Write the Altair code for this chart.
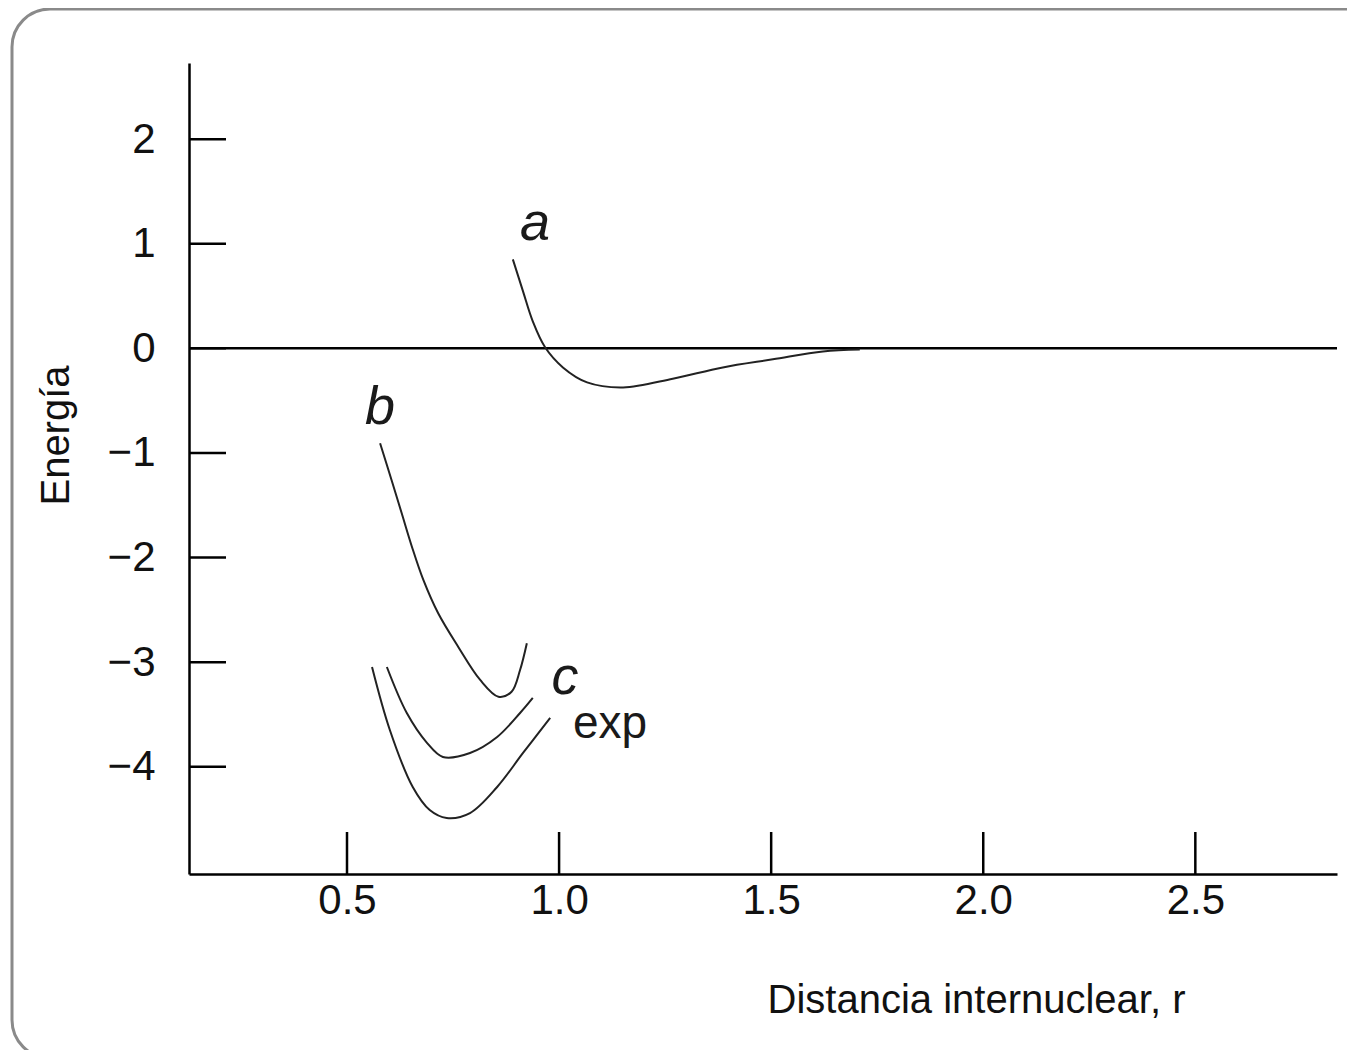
import altair as alt
import pandas as pd

# Axis ticks
x_ticks = [0.5, 1.0, 1.5, 2.0, 2.5]
y_ticks = [-4, -3, -2, -1, 0, 1, 2]

# Curve a
a_r = [0.891, 0.915, 0.938, 0.967, 1.009, 1.066, 1.151, 1.268, 1.386, 1.504, 1.622, 1.709]
a_e = [0.851, 0.545, 0.258, 0.010, -0.182, -0.325, -0.373, -0.290, -0.182, -0.105, -0.029, -0.010]
# Curve b
b_r = [0.578, 0.605, 0.629, 0.653, 0.680, 0.715, 0.762, 0.814, 0.857, 0.888, 0.908, 0.924]
b_e = [-0.907, -1.258, -1.577, -1.896, -2.214, -2.533, -2.852, -3.170, -3.330, -3.282, -3.075, -2.819]
# Curve c
c_r = [0.594, 0.641, 0.689, 0.726, 0.790, 0.854, 0.908, 0.938]
c_e = [-3.046, -3.486, -3.773, -3.906, -3.868, -3.715, -3.486, -3.342]
# Experimental curve
exp_r = [0.559, 0.601, 0.655, 0.695, 0.735, 0.790, 0.854, 0.915, 0.979]
exp_e = [-3.046, -3.648, -4.193, -4.413, -4.489, -4.442, -4.193, -3.868, -3.533]

# Curve labels
ital_labels = ["a", "b", "c"]
ital_r = [0.943, 0.578, 1.014]
ital_e = [1.036, -0.723, -3.304]
exp_label = ["exp"]
exp_label_r = [1.12]
exp_label_e = [-3.725]

W, H = 1148, 811
FONT = "Liberation Sans, Arial, sans-serif"

rows = []
for name, rs, es in [("a", a_r, a_e), ("b", b_r, b_e), ("c", c_r, c_e), ("exp", exp_r, exp_e)]:
    for r, e in zip(rs, es):
        rows.append({"curve": name, "r": r, "E": e})
curves = pd.DataFrame(rows)

xscale = alt.Scale(domain=[0.1275, 2.834], nice=False, zero=False)
yscale = alt.Scale(domain=[-5.025, 2.728], nice=False, zero=False)

frame = alt.Chart(pd.DataFrame({"k": [0]})).mark_rect(
    filled=False, stroke="#8a8a8a", strokeWidth=3, cornerRadius=38
).encode(
    x=alt.value(-177), x2=alt.value(1200), y=alt.value(-54), y2=alt.value(995)
)

lines = alt.Chart(curves).mark_line(
    interpolate="catmull-rom", color="#222222", strokeWidth=2
).encode(
    x=alt.X("r:Q", scale=xscale, axis=alt.Axis(
        values=x_ticks, format=".1f", title="Distancia internuclear, r",
        titleX=996, titleY=138, titleAlign="right", titleBaseline="alphabetic",
        labelPadding=6)),
    y=alt.Y("E:Q", scale=yscale, axis=alt.Axis(
        values=y_ticks, format="d", title="Energía",
        titleX=-121, titleY=372, titleBaseline="alphabetic", labelPadding=34)),
    detail="curve:N",
)

zero_line = alt.Chart(pd.DataFrame({"E": [0]})).mark_rule(
    color="black", strokeWidth=2.5
).encode(y=alt.Y("E:Q", scale=yscale), x=alt.value(0), x2=alt.value(W))

xt = alt.Chart(pd.DataFrame({"r": x_ticks})).mark_rule(
    color="black", strokeWidth=2.5
).encode(x=alt.X("r:Q", scale=xscale), y=alt.value(H), y2=alt.value(H - 42))

yt = alt.Chart(pd.DataFrame({"E": y_ticks})).mark_rule(
    color="black", strokeWidth=2.5
).encode(y=alt.Y("E:Q", scale=yscale), x=alt.value(0), x2=alt.value(37))

lab_i = alt.Chart(pd.DataFrame({"t": ital_labels, "r": ital_r, "E": ital_e})).mark_text(
    font=FONT, fontSize=54, fontStyle="italic", align="center", baseline="alphabetic", color="#1a1a1a"
).encode(x=alt.X("r:Q", scale=xscale), y=alt.Y("E:Q", scale=yscale), text="t:N")

lab_e = alt.Chart(pd.DataFrame({"t": exp_label, "r": exp_label_r, "E": exp_label_e})).mark_text(
    font=FONT, fontSize=46, align="center", baseline="alphabetic", color="#1a1a1a"
).encode(x=alt.X("r:Q", scale=xscale), y=alt.Y("E:Q", scale=yscale), text="t:N")

chart = alt.layer(frame, zero_line, xt, yt, lines, lab_i, lab_e).properties(
    width=W, height=H,
    autosize=alt.AutoSizeParams(type="none"),
    padding={"left": 181, "top": 55, "right": 10, "bottom": 176},
).configure_view(stroke=None).configure_axis(
    domainColor="black", domainWidth=2.5, ticks=False, grid=False,
    labelFont=FONT, labelFontSize=42, labelColor="#111",
    titleFont=FONT, titleFontSize=40, titleFontWeight="normal", titleColor="#111",
)

chart.save("out.html", embed_options={"renderer": "svg", "actions": False})
